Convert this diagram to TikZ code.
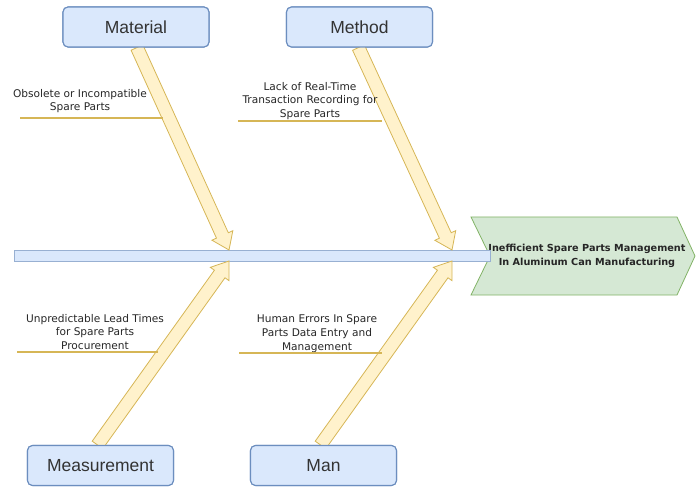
\documentclass[tikz,border=0pt]{standalone}
\usepackage{fontspec}
\setmainfont{Liberation Sans}
\newfontfamily\causefont{DejaVu Sans}
\usetikzlibrary{calc}
\definecolor{boxfill}{HTML}{DAE8FC}
\definecolor{boxline}{HTML}{6C8EBF}
\definecolor{bonefill}{HTML}{FFF2CC}
\definecolor{boneline}{HTML}{D6B656}
\definecolor{headfill}{HTML}{D5E8D4}
\definecolor{headline}{HTML}{82B366}
\definecolor{txt}{HTML}{333333}
\tikzset{
  category/.style={draw=boxline, fill=boxfill, line width=1.1pt, rounded corners=5pt,
    minimum width=146pt, minimum height=40pt, inner sep=0pt, text=txt,
    font=\fontsize{17.5}{20}\selectfont},
  bone/.style={draw=boneline, fill=bonefill, line width=0.8pt, line join=miter},
  cause/.style={align=center, text=black!85, inner sep=0pt,
    font=\causefont\fontsize{10.6}{13.8}\selectfont},
  causeline/.style={draw=boneline, line width=2pt},
  spinebar/.style={draw=boxline!70, fill=boxfill, line width=0.8pt},
  headshape/.style={draw=headline, fill=headfill, line width=0.8pt}
}
% fat arrow from #1 to the tip #2
\newcommand\fatarrow[2]{%
  \path ($(#2)!16pt!(#1)$) coordinate (hb);
  \draw[bone] ($(#1)!6.5pt!90:(#2)$) -- ($(hb)!6.5pt!90:(#2)$) -- ($(hb)!11.5pt!90:(#2)$)
    -- (#2) -- ($(hb)!11.5pt!-90:(#2)$) -- ($(hb)!6.5pt!-90:(#2)$)
    -- ($(#1)!6.5pt!-90:(#2)$) -- cycle;
}
\begin{document}
\begin{tikzpicture}[x=1pt,y=-1pt]
\path[use as bounding box] (0,0) rectangle (699,489);

% effect head
\draw[headshape] (471,217) coordinate (h1) -- (677,217) coordinate (h2)
  -- (695,256) coordinate (h3) -- (677,295) coordinate (h4)
  -- (471,295) coordinate (h5) -- (490,256) coordinate (h6) -- cycle;
\node[align=center, text=black!85, inner sep=0pt,
  font=\causefont\bfseries\fontsize{9.7}{14}\selectfont] (effect) at (587,256)
  {Inefficient Spare Parts Management\\In Aluminum Can Manufacturing};

% spine
\draw[spinebar] (14,250) rectangle (490,261);
\coordinate (t1) at (229,250);
\coordinate (t2) at (452,250);
\coordinate (t3) at (229,261);
\coordinate (t4) at (452,261);

% category boxes
\node[category] (mat) at (136,27) {Material};
\node[category] (met) at (359.5,27) {Method};
\node[category] (mea) at (100.5,465.5) {Measurement};
\node[category] (man) at (323.5,465.5) {Man};

% bones
\fatarrow{$(mat.south)+(1,0)$}{t1}
\fatarrow{$(met.south)+(-1,0)$}{t2}
\fatarrow{$(mea.north)+(-3,0)$}{t3}
\fatarrow{$(man.north)+(-3,0)$}{t4}

% redraw boxes above the bone ends
\node[category] at (mat) {Material};
\node[category] at (met) {Method};
\node[category] at (mea) {Measurement};
\node[category] at (man) {Man};

% causes
\node[cause] (c1) at (80,101) {Obsolete or Incompatible\\Spare Parts};
\coordinate (l1a) at (20,118); \coordinate (l1b) at (163,118);
\draw[causeline] (l1a) -- (l1b);

\node[cause] (c2) at (310,101) {Lack of Real-Time\\Transaction Recording for\\Spare Parts};
\coordinate (l2a) at (238,121); \coordinate (l2b) at (382,121);
\draw[causeline] (l2a) -- (l2b);

\node[cause] (c3) at (95,332) {Unpredictable Lead Times\\for Spare Parts\\Procurement};
\coordinate (l3a) at (17,352); \coordinate (l3b) at (158,352);
\draw[causeline] (l3a) -- (l3b);

\node[cause] (c4) at (317,333.5) {Human Errors In Spare\\Parts Data Entry and\\Management};
\coordinate (l4a) at (239,353); \coordinate (l4b) at (382,353);
\draw[causeline] (l4a) -- (l4b);
\end{tikzpicture}
\end{document}
